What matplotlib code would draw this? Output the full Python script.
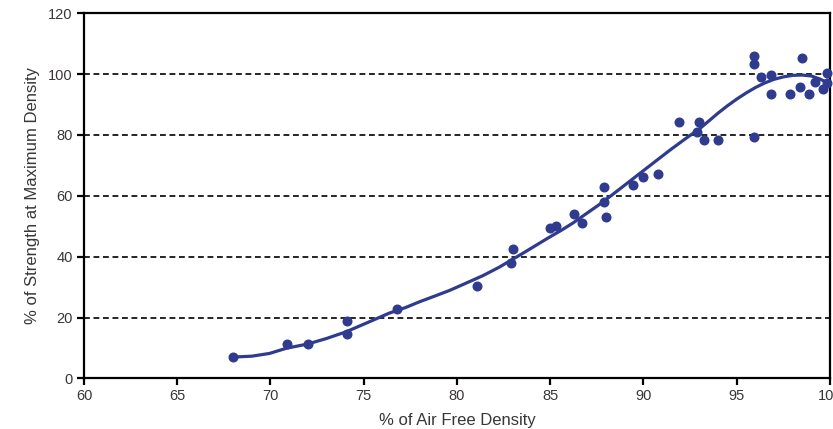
import numpy as np
import matplotlib
matplotlib.use("Agg")
import matplotlib.pyplot as plt

air_free = [68.0, 70.9, 72.0, 74.1, 74.1, 76.8, 81.05, 83.0, 82.9, 85.0, 85.3,
            86.25, 86.7, 87.9, 87.9, 88.0, 89.45, 90.0, 90.8, 91.9, 93.0, 92.85,
            93.25, 94.0, 95.9, 95.9, 95.9, 96.3, 96.85, 96.85, 97.85, 98.4,
            98.5, 98.9, 99.2, 99.6, 99.85, 99.85]
strength = [7.0, 11.2, 11.2, 18.9, 14.5, 22.9, 30.3, 42.6, 37.8, 49.4, 50.0,
            54.0, 51.0, 62.8, 58.1, 53.1, 63.5, 66.3, 67.2, 84.4, 84.4, 81.1,
            78.3, 78.3, 106.0, 103.2, 79.4, 98.9, 99.7, 93.5, 93.5, 95.9,
            105.2, 93.5, 97.5, 95.0, 100.3, 97.0]

# trend line
trend_x = [68.0, 69.0, 69.95, 70.85, 72.0, 73.0, 74.05, 75.3, 76.35, 77.25, 78.0,
           78.7, 79.6, 80.45, 81.4, 82.25, 83.5, 84.9, 85.6, 86.2, 86.9, 87.6,
           88.4, 89.2, 90.0, 90.8, 91.5, 92.3, 93.0, 93.5, 94.0, 94.5, 95.0,
           95.5, 96.0, 96.5, 97.0, 97.5, 98.0, 98.5, 99.0, 99.5, 99.9]
trend_y = [7.0, 7.3, 8.2, 9.9, 11.3, 13.1, 15.3, 18.6, 21.4, 23.3, 25.2,
           26.8, 28.9, 31.2, 33.8, 36.5, 41.0, 46.2, 48.7, 51.0, 54.0, 57.0,
           60.7, 64.5, 68.3, 72.1, 75.4, 79.0, 82.0, 84.6, 87.2, 89.6, 91.8,
           93.8, 95.6, 97.1, 98.3, 99.1, 99.6, 99.7, 99.4, 98.3, 97.0]

blue = "#2f3b8f"
txt = "#3a3636"

plt.rcParams['font.family'] = ['Liberation Sans', 'DejaVu Sans']

fig = plt.figure(figsize=(8.33, 4.29), dpi=100)
ax = fig.add_axes([0.1008, 0.118, 0.8956, 0.851])

for g in [20, 40, 60, 80, 100]:
    ax.axhline(g, color="black", lw=1.2, ls=(0, (3.5, 2.2)), zorder=1)

ax.plot(trend_x, trend_y, color=blue, lw=2.3, zorder=3,
        solid_capstyle="round", solid_joinstyle="round")
ax.plot(air_free, strength, "o", color=blue, ms=6.2, zorder=4, clip_on=False)

ax.set_xlim(60, 100)
ax.set_ylim(0, 120)
ax.set_xticks(np.arange(60, 101, 5))
ax.set_yticks(np.arange(0, 121, 20))

for s in ax.spines.values():
    s.set_linewidth(1.6)
    s.set_color("black")
ax.tick_params(axis="both", direction="out", length=5, width=1.6,
               labelsize=10.5, labelcolor=txt, pad=3)

ax.set_xlabel("% of Air Free Density", fontsize=12, color=txt, labelpad=7)
ax.set_ylabel("% of Strength at Maximum Density", fontsize=12, color=txt,
              labelpad=6)

fig.savefig("out.png", dpi=100)
